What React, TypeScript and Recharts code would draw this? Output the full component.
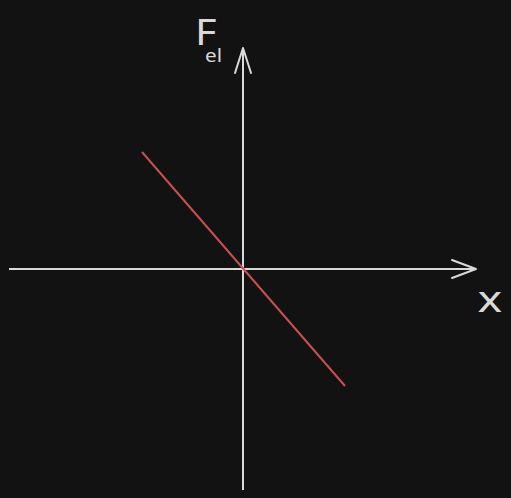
import { ComposedChart, Line, XAxis, YAxis, ReferenceLine } from 'recharts'

// data units: 1 unit ~ 100px
const xDomain = [-2.43, 2.68]
const yDomain = [-2.29, 2.69]

// displacement x vs elastic force F_el
const displacement = [-1.01, 1.02]
const force = [1.17, -1.17]

const horizAxisSpan = [-2.34, 2.33]
const vertAxisSpan = [-2.21, 2.21]

const chartData = displacement.map((x, i) => ({ x, f: force[i] }))

const AXIS_COLOR = '#d9d9d9'

function ArrowX(props: any) {
  const { x1, y1, x2, y2 } = props
  return (
    <g>
      <line x1={x1} y1={y1} x2={x2} y2={y2} stroke={AXIS_COLOR} strokeWidth={2} />
      <polyline
        points={`${x2 - 24},${y2 - 9} ${x2},${y2} ${x2 - 24},${y2 + 9}`}
        fill="none"
        stroke={AXIS_COLOR}
        strokeWidth={2}
        strokeLinecap="round"
        strokeLinejoin="round"
      />
      <text
        x={x2 + 14}
        y={y2 + 43}
        textAnchor="middle"
        fill={AXIS_COLOR}
        fontSize={36}
        fontFamily="'Noto Sans', sans-serif"
        transform={`translate(${x2 + 14},0) scale(1.3,1) translate(${-(x2 + 14)},0)`}
      >
        x
      </text>
    </g>
  )
}

function ArrowY(props: any) {
  const { x1, y1, x2, y2 } = props
  const lx = x2 - 48
  return (
    <g>
      <line x1={x1} y1={y1} x2={x2} y2={y2} stroke={AXIS_COLOR} strokeWidth={2} />
      <polyline
        points={`${x2 - 8},${y2 + 25} ${x2},${y2} ${x2 + 8},${y2 + 25}`}
        fill="none"
        stroke={AXIS_COLOR}
        strokeWidth={2}
        strokeLinecap="round"
        strokeLinejoin="round"
      />
      <text
        x={lx}
        y={y2 - 3}
        fill={AXIS_COLOR}
        fontFamily="'Noto Sans', sans-serif"
        transform={`translate(${lx},0) scale(1.15,1) translate(${-lx},0)`}
      >
        <tspan fontSize={36}>F</tspan>
        <tspan fontSize={18} dx={-10} dy={17}>el</tspan>
      </text>
    </g>
  )
}

export default function App() {
  return (
    <div style={{ position: 'absolute', left: 0, top: 0, width: 511, height: 498, background: '#121212' }}>
      <ComposedChart width={511} height={498} data={chartData} margin={{ top: 0, right: 0, bottom: 0, left: 0 }}>
        <XAxis dataKey="x" type="number" domain={xDomain} hide allowDataOverflow />
        <YAxis type="number" domain={yDomain} hide allowDataOverflow />
        <ReferenceLine
          segment={[{ x: horizAxisSpan[0], y: 0 }, { x: horizAxisSpan[1], y: 0 }]}
          shape={ArrowX}
          ifOverflow="visible"
        />
        <ReferenceLine
          segment={[{ x: 0, y: vertAxisSpan[0] }, { x: 0, y: vertAxisSpan[1] }]}
          shape={ArrowY}
          ifOverflow="visible"
        />
        <Line
          dataKey="f"
          stroke="#c94f4f"
          strokeWidth={2}
          dot={false}
          activeDot={false}
          isAnimationActive={false}
        />
      </ComposedChart>
    </div>
  )
}
